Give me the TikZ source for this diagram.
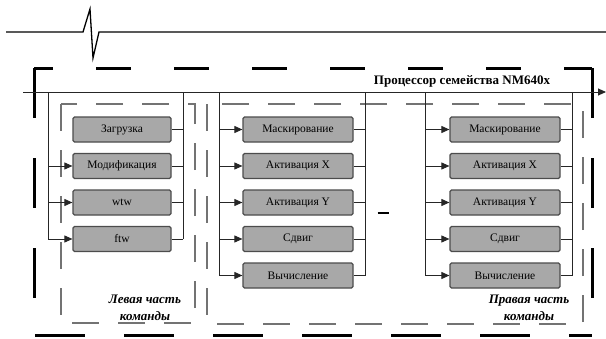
\documentclass[tikz,border=0pt]{standalone}
\usepackage{fontspec}
\setmainfont{Liberation Serif}
\usetikzlibrary{arrows.meta, positioning, calc}

\begin{document}
\begin{tikzpicture}[x=1pt, y=-1pt,
        box/.style={rectangle, rounded corners=1.5pt, draw=black!70, fill=black!34,
                    line width=1.2pt, minimum height=25pt, inner sep=2pt,
                    font=\fontsize{11.5}{13}\selectfont},
        lbox/.style={box, minimum width=98pt},
        wbox/.style={box, minimum width=110pt},
        wire/.style={draw=black!85, line width=0.9pt},
        arr/.style={wire, -{Triangle[length=8pt, width=7pt]}},
        thickdash/.style={draw=black, line width=3pt},
        partbox/.style={draw=black!55, line width=1.3pt, dash pattern=on 27pt off 19pt},
        lbl/.style={font=\fontsize{13}{17}\selectfont\bfseries\itshape, align=center}
    ]
    \useasboundingbox (0,0) rectangle (606,338);

    \draw[line width=1.3pt] (6,32) -- (83,32) -- (90,9) -- (93,58) -- (99,32) -- (606,32);

    \draw[thickdash, dash pattern=on 35pt off 43pt, dash phase=16pt] (34,68) -- (592,68);
    \draw[thickdash, dash pattern=on 50pt off 39pt] (35,335) -- (592,335);
    \draw[thickdash, dash pattern=on 50pt off 40pt] (34,68) -- (34,335);
    \draw[thickdash, dash pattern=on 50pt off 40pt] (592,68) -- (592,335);

    \draw[partbox] (61,104) rectangle (195,323);
    \draw[partbox] (207,104) rectangle (583,324);

    \node[font=\fontsize{13}{15}\selectfont\bfseries] (title) at (462,81) {Процессор семейства NM640x};

    \coordinate (busL) at (23,92);
    \coordinate (busR) at (606,92);
    \draw[arr] (busL) -- (busR);

    \node[lbox] (zag) at (122,129.5) {Загрузка};
    \node[lbox] (mod) at (122,166)   {Модификация};
    \node[lbox] (wtw) at (122,202.5) {wtw};
    \node[lbox] (ftw) at (122,239)   {ftw};

    \node[wbox] (maskA)  at (298,129.5) {Маскирование};
    \node[wbox] (actxA)  at (298,166)   {Активация X};
    \node[wbox] (actyA)  at (298,202.5) {Активация Y};
    \node[wbox] (shiftA) at (298,239)   {Сдвиг};
    \node[wbox] (calcA)  at (298,275.5) {Вычисление};

    \node[wbox] (maskB)  at (505,129.5) {Маскирование};
    \node[wbox] (actxB)  at (505,166)   {Активация X};
    \node[wbox] (actyB)  at (505,202.5) {Активация Y};
    \node[wbox] (shiftB) at (505,239)   {Сдвиг};
    \node[wbox] (calcB)  at (505,275.5) {Вычисление};

    \node[inner sep=0pt] (minus) at (383,213) {\rule{11pt}{2.6pt}};

    \coordinate (lIn)  at (48,92);
    \coordinate (lOut) at (183,92);
    \coordinate (mIn)  at (219,92);
    \coordinate (mOut) at (365,92);
    \coordinate (rIn)  at (425,92);
    \coordinate (rOut) at (572,92);

    \draw[wire] (lIn) -- (lIn |- ftw.west);
    \draw[wire] (lOut) -- (lOut |- ftw.east);
    \foreach \b in {mod, wtw, ftw}
        \draw[arr] (lIn |- \b.west) -- (\b.west);
    \foreach \b in {zag, mod, wtw, ftw}
        \draw[wire] (\b.east) -- (lOut |- \b.east);

    \draw[wire] (mIn) -- (mIn |- calcA.west);
    \draw[wire] (mOut) -- (mOut |- calcA.east);
    \draw[wire] (rIn) -- (rIn |- calcB.west);
    \draw[wire] (rOut) -- (rOut |- calcB.east);
    \foreach \b in {maskA, actxA, actyA, shiftA, calcA} {
        \draw[arr] (mIn |- \b.west) -- (\b.west);
        \draw[wire] (\b.east) -- (mOut |- \b.east);
    }
    \foreach \b in {maskB, actxB, actyB, shiftB, calcB} {
        \draw[arr] (rIn |- \b.west) -- (\b.west);
        \draw[wire] (\b.east) -- (rOut |- \b.east);
    }

    \node[lbl] (leftlbl)  at (145,308) {Левая часть\\команды};
    \node[lbl] (rightlbl) at (529,308) {Правая часть\\команды};
\end{tikzpicture}
\end{document}
